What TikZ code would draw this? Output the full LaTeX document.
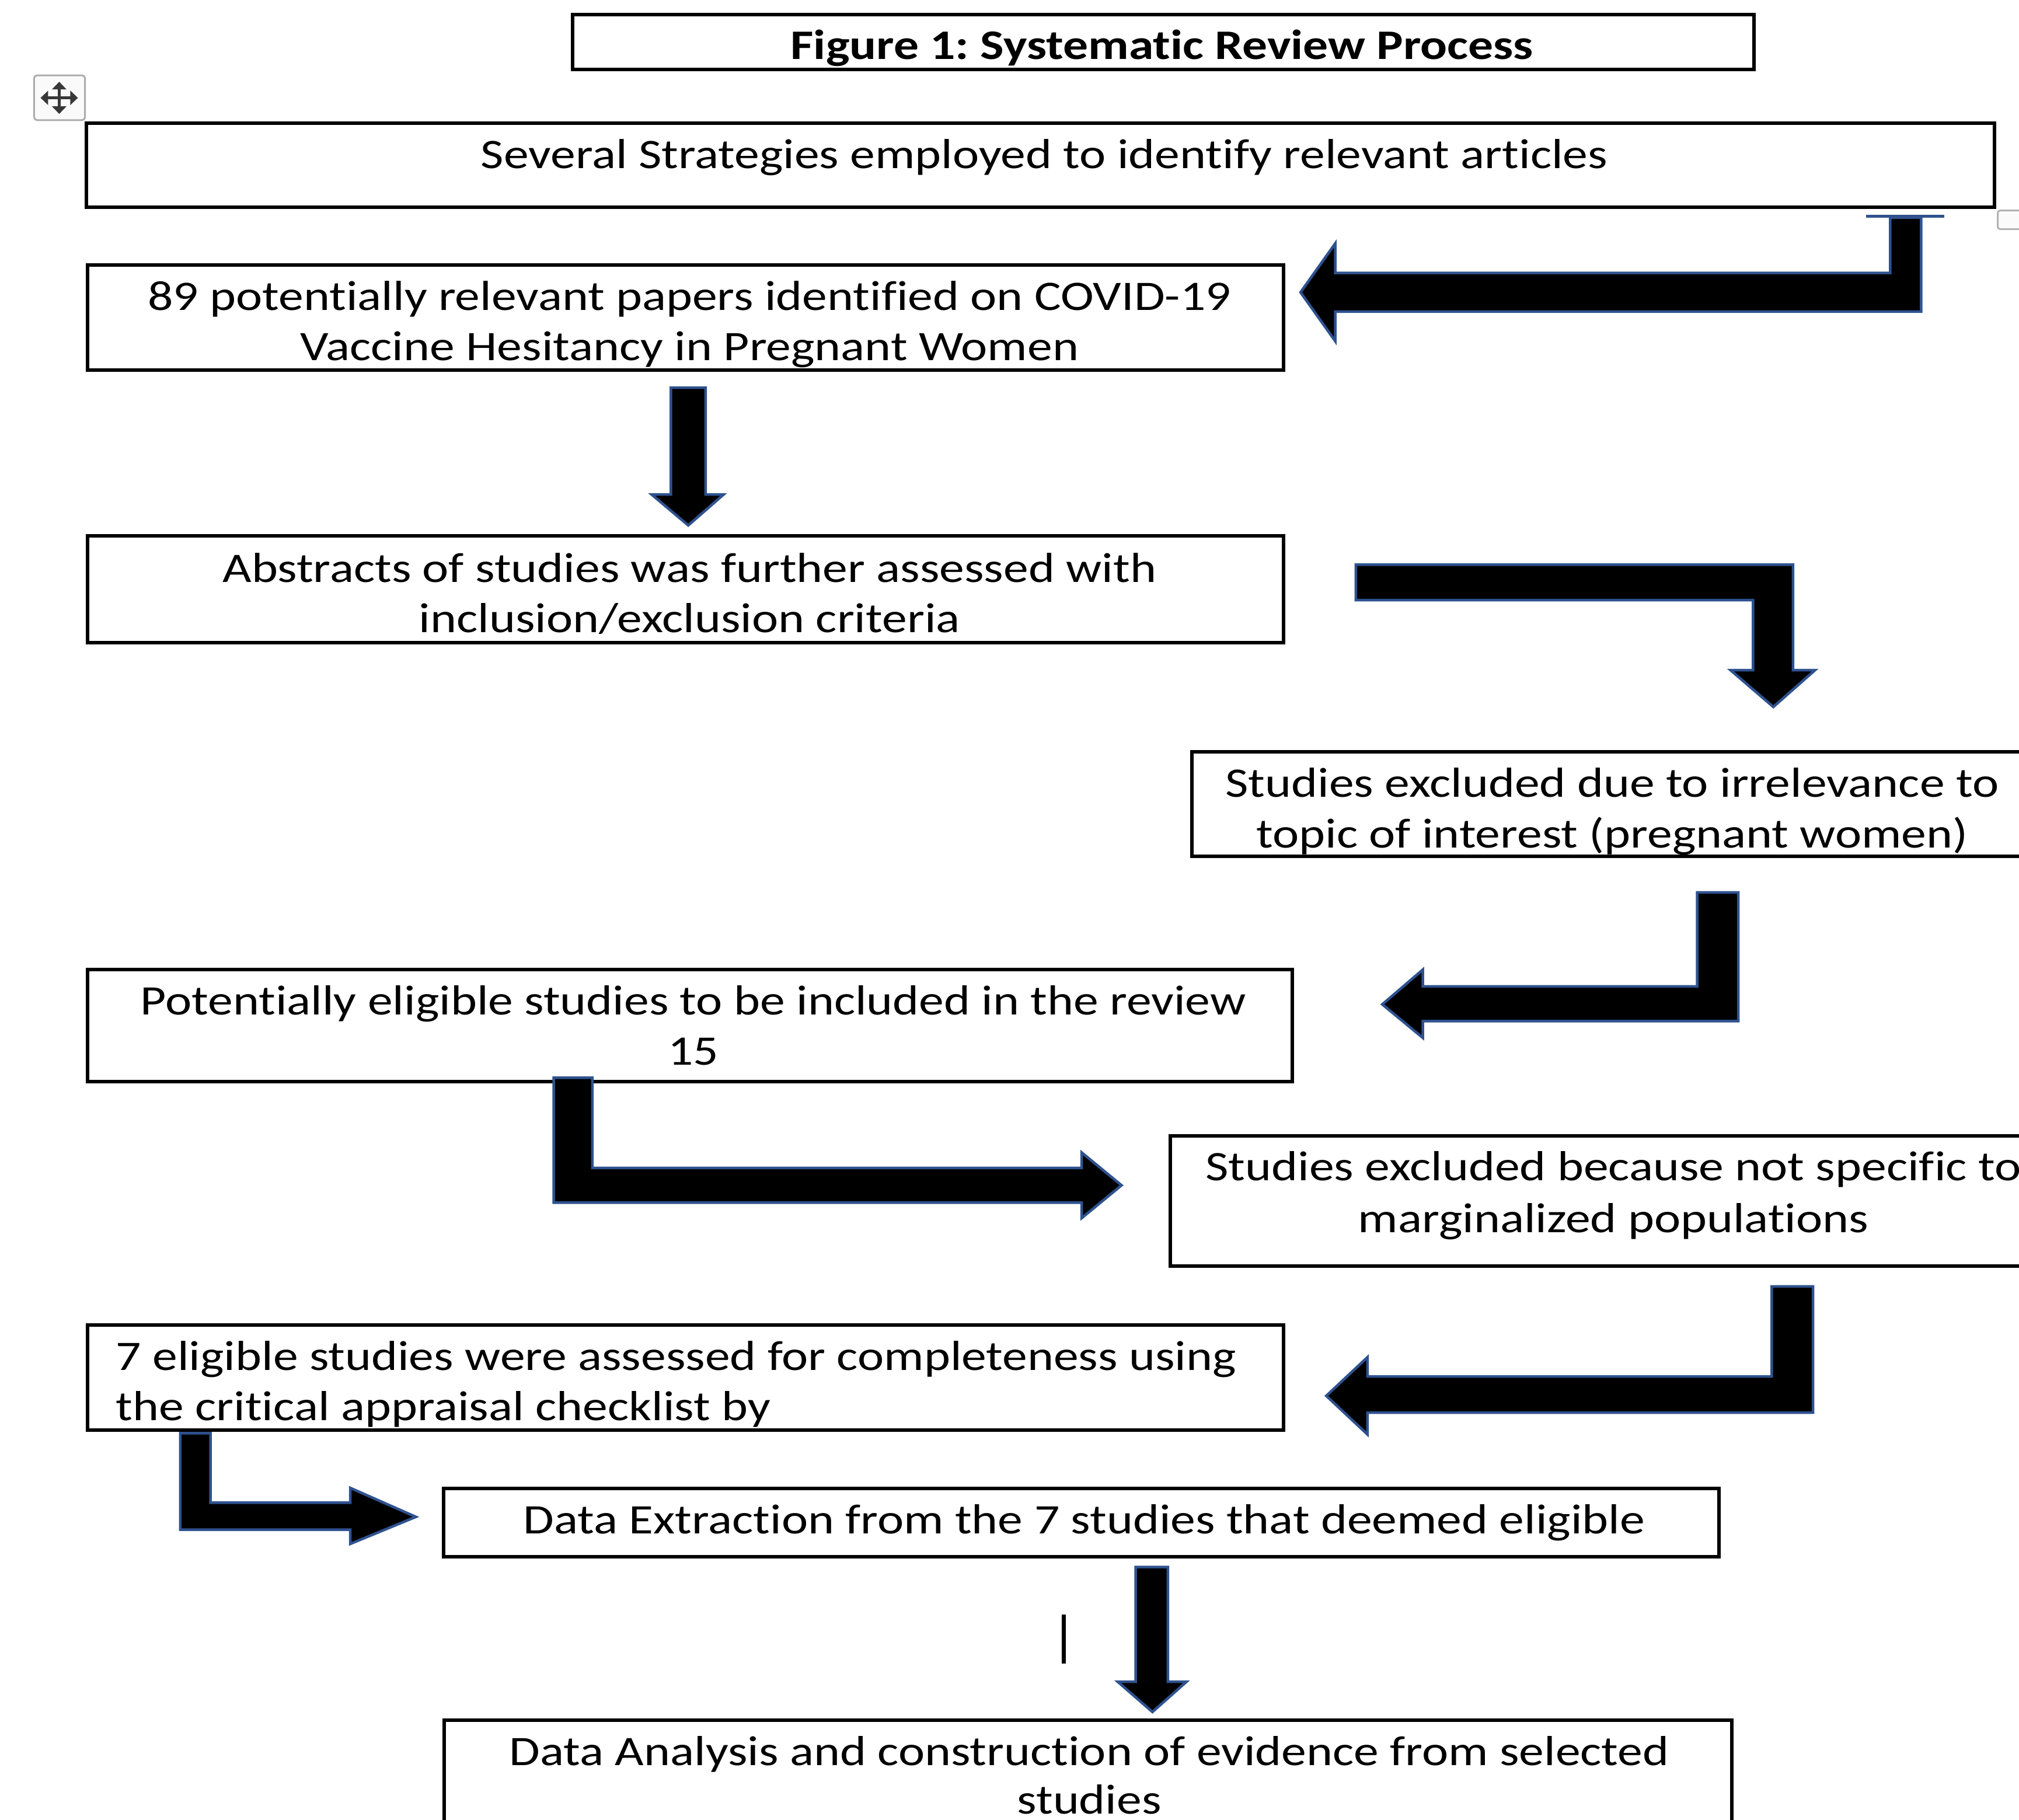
\documentclass[tikz,border=0pt]{standalone}
\usepackage{fontspec}
\setmainfont{Carlito}[FakeStretch=1.19,Ligatures={NoCommon}]
\usetikzlibrary{fit,arrows.meta}
\definecolor{arrowblue}{RGB}{47,82,143}
\frenchspacing
\begin{document}
\begin{tikzpicture}[x=2.206pt,y=-2.206pt,
  box/.style={draw=black,line width=6pt,inner sep=0pt,outer sep=0pt},
  blk/.style={fill=black,draw=arrowblue,line width=4.5pt,line join=miter},
  txt/.style={anchor=base,inner sep=0pt,font=\fontsize{72pt}{86pt}\selectfont},
  txtw/.style={txt,anchor=base west},
  ttl/.style={txt,font=\fontsize{72pt}{86pt}\selectfont\bfseries}]
\useasboundingbox (0,0) rectangle (1568,1413);
\clip (0,0) rectangle (1568,1413);

% ---------- boxes ----------
\node[box,fit={(444.7,11.3) (1362,54)}] (title) {};
\node[box,fit={(67,95.6) (1549,161)}] (b1) {};
\node[box,fit={(68,206) (997,287.5)}] (b2) {};
\node[box,fit={(68,416) (997,499)}] (b3) {};
\node[box,fit={(925.5,584) (1590,665)}] (b4) {};
\node[box,fit={(68,753) (1003.5,840)}] (b5) {};
\node[box,fit={(909,882) (1590,983)}] (b6) {};
\node[box,fit={(68,1029) (997,1110.5)}] (b7) {};
\node[box,fit={(344.5,1156) (1335,1209)}] (b8) {};
\node[box,fit={(345,1336) (1345,1430)}] (b9) {};

% ---------- texts ----------
\node[ttl] (tt) at (902.5,46.2) {Figure 1: Systematic Review Process};
\node[txt] (t1) at (811,131) {Several Strategies employed to identify relevant articles};
\node[txt] (t2a) at (535.5,241) {89 potentially relevant papers identified on COVID-19};
\node[txt] (t2b) at (535.5,280) {Vaccine Hesitancy in Pregnant Women};
\node[txt] (t3a) at (535.5,452) {Abstracts of studies was further assessed with};
\node[txt] (t3b) at (535.5,491) {inclusion/exclusion criteria};
\node[txt] (t4a) at (1252,619) {Studies excluded due to irrelevance to};
\node[txt] (t4b) at (1252,658.4) {topic of interest (pregnant women)};
\node[txt] (t5a) at (538.5,788) {Potentially eligible studies to be included in the review};
\node[txt] (t5b) at (538.5,827) {15};
\node[txt] (t6a) at (1253,917) {Studies excluded because not specific to};
\node[txt] (t6b) at (1253,957) {marginalized populations};
\node[txtw] (t7a) at (90,1064) {7 eligible studies were assessed for completeness using};
\node[txtw] (t7b) at (90,1103) {the critical appraisal checklist by};
\node[txt] (t8) at (842,1191) {Data Extraction from the 7 studies that deemed eligible};
\node[txt] (t9a) at (846,1371) {Data Analysis and construction of evidence from selected};
\node[txt] (t9b) at (846,1408.5) {studies};

% ---------- block arrows ----------
% 1: from top right, bent to the left
\draw[blk] (1492,169) -- (1492,242) -- (1037,242) -- (1037,265) -- (1010,227)
  -- (1037,189) -- (1037,212) -- (1468,212) -- (1468,169) -- cycle;
\draw[arrowblue,line width=5pt] (1449,168) -- (1510,168);
% 2: straight down
\draw[blk] (521,301) -- (548,301) -- (548,384) -- (562,384) -- (534.5,408)
  -- (506,384) -- (521,384) -- cycle;
% 3: right then down
\draw[blk] (1053,438.5) -- (1392.5,438.5) -- (1392.5,520.5) -- (1409.5,520.5)
  -- (1377.2,549) -- (1344,520.5) -- (1361.5,520.5) -- (1361.5,466) -- (1053,466) -- cycle;
% 4: down then left
\draw[blk] (1318,693) -- (1350,693) -- (1350,793) -- (1105,793) -- (1105,806)
  -- (1073.5,780) -- (1105,753) -- (1105,766) -- (1318,766) -- cycle;
% 5: down then right
\draw[blk] (430,837) -- (460,837) -- (460,907) -- (840,907) -- (840,895)
  -- (871,920.5) -- (840,946) -- (840,934) -- (430,934) -- cycle;
% 6: down then left
\draw[blk] (1376,999) -- (1408,999) -- (1408,1097) -- (1062,1097) -- (1062,1114)
  -- (1030,1084) -- (1062,1054) -- (1062,1069) -- (1376,1069) -- cycle;
% 7: down then right
\draw[blk] (140,1113) -- (163.5,1113) -- (163.5,1167) -- (272,1167) -- (272,1155.5)
  -- (323,1178) -- (272,1199) -- (272,1188) -- (140,1188) -- cycle;
% 8: straight down
\draw[blk] (882,1217) -- (907,1217) -- (907,1306) -- (921.5,1306) -- (895,1329.5)
  -- (868,1306) -- (882,1306) -- cycle;

% ---------- editor artefacts ----------
\node[draw=gray!65,line width=3pt,rounded corners=5pt,fill=gray!4,inner sep=0pt,
  fit={(26.5,58.5) (66,93.3)}] (mv) {};
\draw[black!78,line width=4.5pt,{Triangle[length=13pt,width=24pt]}-{Triangle[length=13pt,width=24pt]}]
  (31.5,76) -- (60.5,76);
\draw[black!78,line width=4.5pt,{Triangle[length=13pt,width=24pt]}-{Triangle[length=13pt,width=24pt]}]
  (46,63.5) -- (46,88.5);
\node[draw=gray!60,line width=3pt,rounded corners=4pt,fill=gray!4,inner sep=0pt,
  fit={(1551.5,163.5) (1580,178)}] (hd) {};
\draw[line width=7pt] (826,1254) -- (826,1292);
\end{tikzpicture}
\end{document}
